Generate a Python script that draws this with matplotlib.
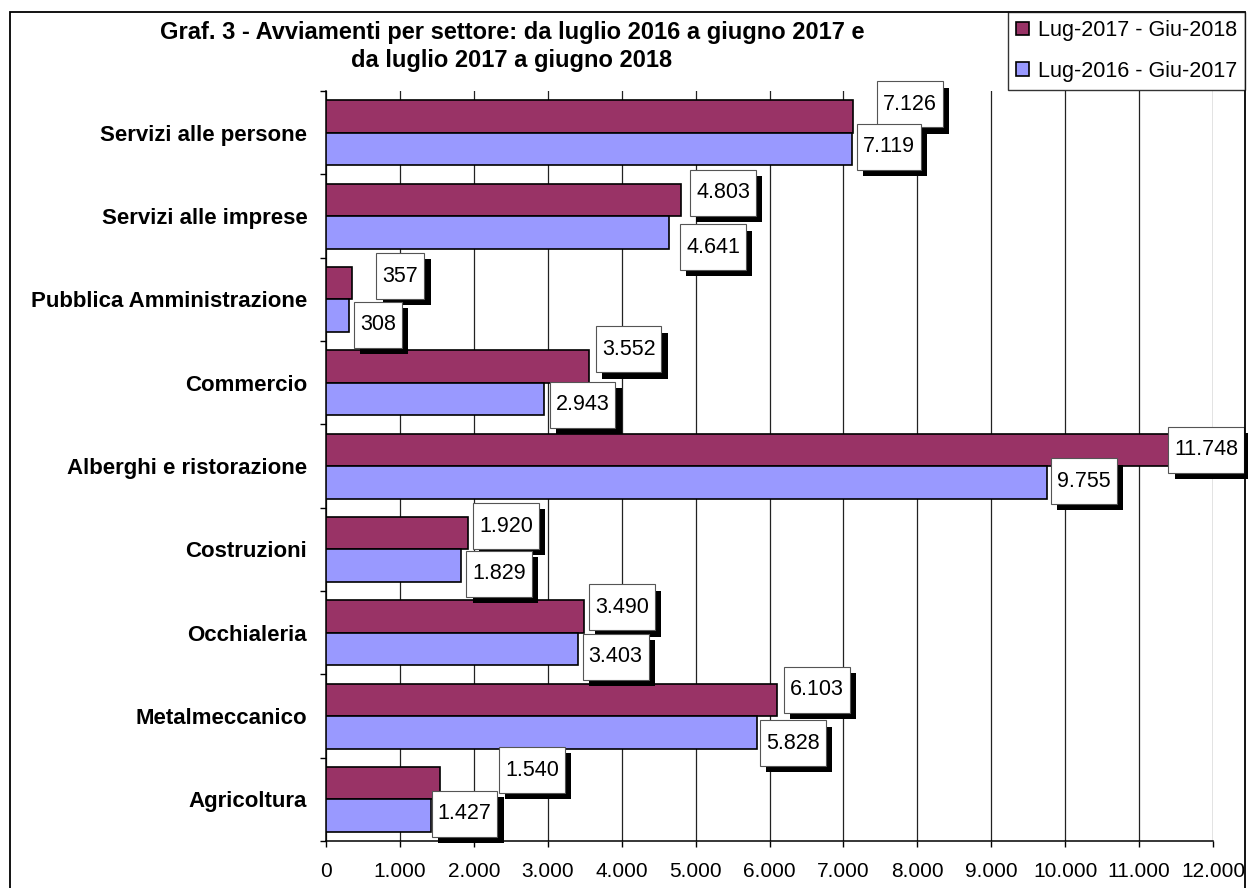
import numpy as np
import matplotlib
matplotlib.use("Agg")
import matplotlib.pyplot as plt
from matplotlib.patches import Patch, Rectangle
from matplotlib.path import Path
import matplotlib.patheffects as pe

plt.rcParams['font.family'] = ['Liberation Sans', 'DejaVu Sans']

# data, top to bottom as in the chart
settori = ['Servizi alle persone', 'Servizi alle imprese', 'Pubblica Amministrazione',
           'Commercio', 'Alberghi e ristorazione', 'Costruzioni', 'Occhialeria',
           'Metalmeccanico', 'Agricoltura']
avv_1718 = [7126, 4803, 357, 3552, 11748, 1920, 3490, 6103, 1540]
avv_1617 = [7119, 4641, 308, 2943, 9755, 1829, 3403, 5828, 1427]
serie = ['Lug-2017 - Giu-2018', 'Lug-2016 - Giu-2017']
x_ticks = list(range(0, 12001, 1000))

# label box offsets from bar end (pixels, y up), as placed in the original
off_1718 = [(57, 12), (42, 7), (48, 7), (40, 17), (12, 0), (38, 7), (38, 9), (40, 10), (92, 13)]
off_1617 = [(37, 2), (44, -15), (29, -9), (39, -6), (37, 1), (38, -8), (38, -8), (36, -11), (33, 2)]

col_1718 = '#993366'
col_1617 = '#9999FF'

W, H = 1248, 888


def fmt(v):
    return f"{v:,}".replace(",", ".")


def label_box(x0, y0, width, height, mutation_size):
    # taller padding than wide, like the Excel labels
    px = 0.28 * mutation_size
    py = 0.58 * mutation_size
    x0, y0 = x0 - px, y0 - py
    x1, y1 = x0 + width + 2 * px, y0 + height + 2 * py
    return Path([(x0, y0), (x1, y0), (x1, y1), (x0, y1), (x0, y0)], closed=True)


fig = plt.figure(figsize=(W / 100, H / 100), dpi=100)
ax = fig.add_axes([326 / W, 47 / H, 887 / W, 750 / H])

y = np.arange(len(settori))
h = 0.39
ax.barh(y - h / 2, avv_1718, height=h, color=col_1718, edgecolor='black', lw=1.2, zorder=3)
ax.barh(y + h / 2, avv_1617, height=h, color=col_1617, edgecolor='black', lw=1.2, zorder=3)

ax.set_xlim(0, 12000)
ax.set_ylim(len(settori) - 0.5, -0.5)

ax.set_xticks(x_ticks)
ax.set_xticklabels([fmt(v) for v in x_ticks], fontsize=15)
ax.tick_params(axis='x', direction='out', length=4.3, width=1, pad=11)

ax.set_yticks(y)
ax.set_yticklabels(settori, fontsize=16, fontweight='bold')
ax.set_yticks(np.arange(-0.5, len(settori), 1), minor=True)
ax.tick_params(axis='y', which='major', length=0, pad=13.5)
ax.tick_params(axis='y', which='minor', direction='out', length=4.3, width=1)

ax.xaxis.grid(True, color='#222222', lw=0.9)
ax.set_axisbelow(True)
for s in ['top', 'right']:
    ax.spines[s].set_visible(False)
for s in ['left', 'bottom']:
    ax.spines[s].set_linewidth(1.1)

# data labels in boxes with a hard black shadow
for vals, offs, dy in [(avv_1718, off_1718, -h / 2), (avv_1617, off_1617, h / 2)]:
    for i, (v, (ox, oy)) in enumerate(zip(vals, offs)):
        t = ax.annotate(fmt(v), xy=(v, i + dy), xytext=(ox, oy), textcoords='offset pixels',
                        ha='center', va='center', fontsize=15.5, zorder=5, annotation_clip=False,
                        bbox=dict(boxstyle=label_box, fc='white', ec='#555555', lw=0.8))
        t.get_bbox_patch().set_path_effects([
            pe.SimplePatchShadow(offset=(4.5, -4.5), shadow_rgbFace='black', alpha=1.0),
            pe.Normal()])

# title
fig.text(512 / W, 1 - 39 / H, 'Graf. 3 - Avviamenti per settore: da luglio 2016 a giugno 2017 e',
         ha='center', va='baseline', fontsize=17, fontweight='bold')
fig.text(512 / W, 1 - 67 / H, 'da luglio 2017 a giugno 2018',
         ha='center', va='baseline', fontsize=17, fontweight='bold')

# legend
handles = [Patch(facecolor=col_1718, edgecolor='black', lw=1.2),
           Patch(facecolor=col_1617, edgecolor='black', lw=1.2)]
leg = fig.legend(handles, serie, loc='upper right', bbox_to_anchor=(1245 / W, 1 - 12 / H),
                 borderaxespad=0, fontsize=15.5, frameon=True, fancybox=False,
                 borderpad=0.38, labelspacing=0.9, handlelength=0.56, handleheight=0.56,
                 handletextpad=0.42)
leg.get_frame().set_edgecolor('black')
leg.get_frame().set_linewidth(1.0)

# outer chart frame
fig.add_artist(Rectangle((10 / W, -0.05), 1235 / W, 1.05 - 12 / H, transform=fig.transFigure,
                         fill=False, ec='black', lw=1.3))

fig.savefig('out.png', dpi=100)
